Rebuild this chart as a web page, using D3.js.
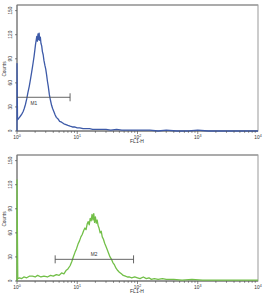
<!DOCTYPE html>
<html>
  <head>
    <meta charset="utf-8">
    <title>FL1-H histograms</title>
    <script src="https://d3js.org/d3.v7.min.js"></script>
    <style>
      body { margin: 0; background: #fff; }
      text { font-family: "Liberation Sans", Arial, sans-serif; fill: #333; }
    </style>
  </head>
  <body>
    <svg id="chart"></svg>
    <script>
// FL1-H channel values and counts
var topFL1 = [1.0, 1.02, 1.05, 1.1, 1.15, 1.2, 1.26, 1.32, 1.38, 1.45, 1.52, 1.6, 1.67, 1.74, 1.8, 1.86, 1.92, 1.98, 2.03, 2.08, 2.13, 2.18, 2.23, 2.28, 2.33, 2.38, 2.44, 2.5, 2.57, 2.64, 2.72, 2.8, 2.9, 3.0, 3.1, 3.2, 3.3, 3.45, 3.6, 3.75, 3.9, 4.1, 4.3, 4.5, 4.8, 5.1, 5.5, 6.0, 6.5, 7.0, 7.6, 8.3, 9.0, 10, 11, 12.5, 14, 16, 18, 21, 25, 30, 36, 45, 55, 70, 90, 120, 160, 220, 300, 450, 700, 1000, 1500, 2500, 4000, 7000, 10000];
var topCounts = [84, 14, 15, 17, 19, 21, 24, 28, 33, 40, 48, 56, 64, 72, 79, 86, 93, 101, 108, 113, 118, 112, 121, 114, 122, 113, 117, 109, 106, 99, 95, 88, 82, 77, 70, 62, 56, 45, 38, 32, 28, 24, 20, 17, 15, 12, 11, 9, 8, 7, 6, 5, 5, 4, 4, 3, 3, 3, 2, 2, 2, 2, 1, 2, 1, 1, 1, 1, 1, 0, 1, 0, 0, 1, 0, 0, 0, 0, 0];

var botFL1 = [1.0, 1.03, 1.1, 1.2, 1.3, 1.45, 1.6, 1.8, 2.0, 2.2, 2.5, 2.8, 3.2, 3.6, 4.0, 4.5, 5.0, 5.5, 6.0, 6.5, 7.0, 7.6, 8.1, 8.6, 9.2, 9.7, 10.3, 10.9, 11.5, 12.1, 12.8, 13.4, 14.0, 14.6, 15.2, 15.8, 16.4, 17.0, 17.6, 18.2, 18.8, 19.4, 20.0, 20.7, 21.4, 22.2, 23.0, 24.0, 25.0, 26.0, 27.2, 28.5, 30, 31.5, 33, 35, 37, 39, 41.5, 44, 47, 50, 54, 58, 63, 68, 74, 80, 90, 100, 110, 125, 140, 155, 170, 190, 220, 260, 300, 400, 550, 800, 1200, 2000, 3500, 6000, 10000];
var botCounts = [126, 3, 4, 3, 5, 4, 6, 6, 5, 7, 5, 6, 5, 7, 6, 8, 7, 10, 9, 13, 15, 19, 24, 30, 36, 40, 46, 50, 55, 58, 63, 66, 64, 71, 74, 70, 78, 75, 83, 76, 84, 73, 80, 72, 76, 69, 66, 60, 62, 55, 52, 47, 43, 39, 35, 30, 27, 23, 20, 16, 13, 11, 9, 7, 6, 5, 5, 4, 5, 4, 3, 5, 3, 4, 2, 3, 2, 3, 2, 2, 1, 2, 1, 1, 1, 1, 1];

var yTicks = [0, 30, 60, 90, 120, 150];
var xDecades = [1, 10, 100, 1000, 10000];

var panels = [
  { fl1: topFL1, counts: topCounts, color: "#3d5aa8", top: 5,
    marker: { name: "M1", from: 1, to: 7.6, level: 42, labelAt: 1.9, below: true, leftTick: false } },
  { fl1: botFL1, counts: botCounts, color: "#72bf48", top: 155,
    marker: { name: "M2", from: 4.3, to: 86, level: 27, labelAt: 19, below: false, leftTick: true } }
];

var W = 263, H = 300;
var left = 17, right = 258, plotH = 126;

var svg = d3.select("#chart").attr("width", W).attr("height", H);

var x = d3.scaleLog().domain([1, 10000]).range([left, right]);

panels.forEach(function(p) {
  var y = d3.scaleLinear().domain([0, 157]).range([p.top + plotH, p.top]);
  var g = svg.append("g");
  var base = p.top + plotH;

  // frame
  g.append("rect")
    .attr("x", left).attr("y", p.top)
    .attr("width", right - left).attr("height", plotH)
    .attr("fill", "none").attr("stroke", "#999").attr("stroke-width", 1);
  g.append("line")
    .attr("x1", left).attr("x2", right).attr("y1", p.top).attr("y2", p.top)
    .attr("stroke", "#a0a0a0").attr("stroke-width", 1.6);

  // axes
  g.append("line")
    .attr("x1", left).attr("x2", left).attr("y1", p.top).attr("y2", base)
    .attr("stroke", "#555").attr("stroke-width", 0.8);
  g.append("line")
    .attr("x1", left).attr("x2", right).attr("y1", base).attr("y2", base)
    .attr("stroke", "#555").attr("stroke-width", 0.9);

  // histogram, drawn over the axes so the first bin shows on the left edge
  var pts = p.fl1.map(function(v, i) { return [v, p.counts[i]]; });
  var line = d3.line()
    .x(function(d) { return x(d[0]); })
    .y(function(d) { return y(d[1]); });
  g.append("path")
    .attr("d", "M" + x(1) + "," + y(0) + "L" + line(pts).slice(1))
    .attr("fill", "none")
    .attr("stroke", p.color)
    .attr("stroke-width", 1.3)
    .attr("stroke-linejoin", "round");

  yTicks.forEach(function(t) {
    g.append("line")
      .attr("x1", left - 2).attr("x2", left).attr("y1", y(t)).attr("y2", y(t))
      .attr("stroke", "#555").attr("stroke-width", 0.7);
    g.append("text")
      .attr("transform", "translate(" + 12 + "," + y(t) + ")rotate(-90)")
      .attr("text-anchor", "middle")
      .attr("font-size", 4.8)
      .text(t);
  });

  // log ticks on x
  for (var d = 0; d < 4; d++) {
    for (var k = 1; k < 10; k++) {
      var v = Math.pow(10, d) * k;
      g.append("line")
        .attr("x1", x(v)).attr("x2", x(v))
        .attr("y1", base).attr("y2", base + (k == 1 ? 3 : 1.8))
        .attr("stroke", "#555").attr("stroke-width", 0.7);
    }
  }
  xDecades.forEach(function(v, i) {
    var t = g.append("text")
      .attr("x", x(v)).attr("y", base + 7.5)
      .attr("text-anchor", "middle")
      .attr("font-size", 4.8);
    t.append("tspan").text("10");
    t.append("tspan").attr("dy", -2).attr("font-size", 3.6).text(i);
  });

  g.append("text")
    .attr("x", 137).attr("y", base + 12)
    .attr("text-anchor", "middle")
    .attr("font-size", 5)
    .text("FL1-H");

  g.append("text")
    .attr("transform", "translate(" + 5.5 + "," + (p.top + 64) + ")rotate(-90)")
    .attr("text-anchor", "middle")
    .attr("font-size", 4.8)
    .text("Counts");

  // marker bar
  var m = p.marker, my = y(m.level);
  g.append("line")
    .attr("x1", x(m.from)).attr("x2", x(m.to)).attr("y1", my).attr("y2", my)
    .attr("stroke", "#555").attr("stroke-width", 0.9);
  g.append("line")
    .attr("x1", x(m.to)).attr("x2", x(m.to)).attr("y1", my - 4).attr("y2", my + 4)
    .attr("stroke", "#555").attr("stroke-width", 0.9);
  if (m.leftTick) {
    g.append("line")
      .attr("x1", x(m.from)).attr("x2", x(m.from)).attr("y1", my - 4).attr("y2", my + 4)
      .attr("stroke", "#555").attr("stroke-width", 0.9);
  }
  g.append("text")
    .attr("x", x(m.labelAt)).attr("y", m.below ? my + 7.5 : my - 3.5)
    .attr("text-anchor", "middle")
    .attr("font-size", 4.8)
    .text(m.name);
});
    </script>
  </body>
</html>
